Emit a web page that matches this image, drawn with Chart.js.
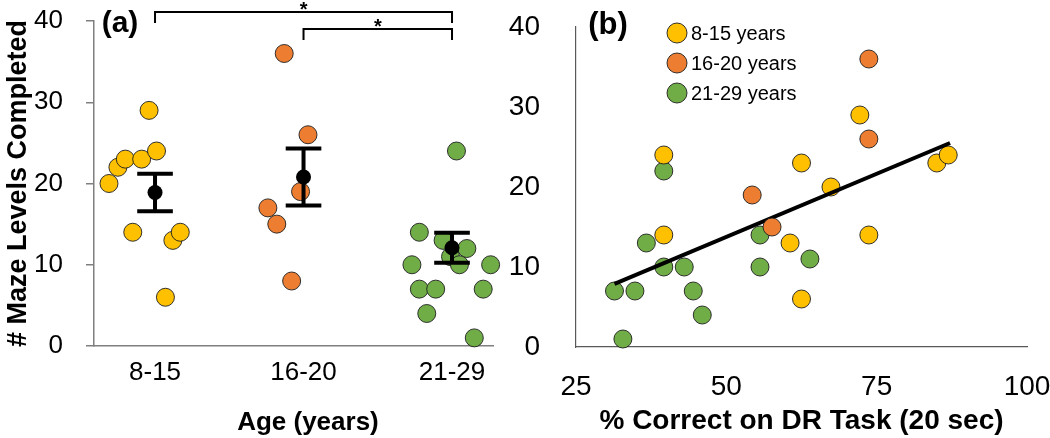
<!DOCTYPE html>
<html>
<head>
<meta charset="utf-8">
<script src="https://cdn.jsdelivr.net/npm/chart.js@4.4.0/dist/chart.umd.min.js"></script>
<style>
  html, body { margin: 0; padding: 0; background: #fff; }
  #wrap { position: relative; width: 1050px; height: 438px; overflow: hidden; }
  .panel { position: absolute; top: 0; height: 438px; }
  #panelA { left: 0; width: 510px; }
  #panelB { left: 500px; width: 550px; }
</style>
</head>
<body>
<div id="wrap">
  <div class="panel" id="panelA"><canvas id="chartA" width="510" height="438"></canvas></div>
  <div class="panel" id="panelB"><canvas id="chartB" width="550" height="438"></canvas></div>
</div>
<script>
// categories
const ageGroups = ['8-15', '16-20', '21-29'];
const legendLabels = ['8-15 years', '16-20 years', '21-29 years'];
const groupColors = ['#FFC000', '#ED7D31', '#70AD47'];
const yTicks = [0, 10, 20, 30, 40];
const drTicks = [25, 50, 75, 100];

// panel (a): maze levels per participant + horizontal jitter around the group
const levels815 = [20, 22, 23, 23, 24, 29, 14, 13, 14, 6];
const jitter815 = [-0.31, -0.25, -0.20, -0.09, 0.01, -0.04, -0.15, 0.12, 0.17, 0.07];
const levels1620 = [36, 26, 19, 17, 15, 8];
const jitter1620 = [-0.13, 0.03, -0.02, -0.24, -0.18, -0.08];
const levels2129 = [24, 14, 13, 12, 11, 10, 10, 10, 7, 7, 7, 4, 1];
const jitter2129 = [0.03, -0.22, -0.06, 0.10, -0.01, 0.05, -0.27, 0.26, -0.22, -0.11, 0.21, -0.17, 0.15];
const groupMeans = [18.9, 20.8, 12.1];
const groupSems = [2.3, 3.5, 1.85];
const sigPairs = [[0, 2], [1, 2]];

// panel (b): % correct on DR task vs levels completed
const dr815 = [39.6, 39.6, 62.5, 67.4, 60.6, 62.5, 72.2, 73.7, 85.0, 86.9];
const lv815 = [24, 14, 23, 20, 13, 6, 29, 14, 23, 24];
const dr1620 = [73.7, 73.7, 54.3, 57.6];
const lv1620 = [36, 26, 19, 15];
const dr2129 = [39.6, 36.7, 39.6, 43.0, 31.4, 34.8, 44.5, 46.0, 32.8, 55.6, 55.6, 63.9];
const lv2129 = [22, 13, 10, 10, 7, 7, 7, 4, 1, 14, 10, 11];
const trendX = [31.4, 87.2];
const trendY = [7.9, 25.5];

const FONT = '"Liberation Sans", Arial, Helvetica, sans-serif';
Chart.defaults.font.family = FONT;
Chart.defaults.color = '#000';

const CAP = 0.12; // half width of error bar caps, in category units

function pointStyle(color) {
  return {
    backgroundColor: color,
    borderColor: 'rgba(30,30,30,0.9)',
    borderWidth: 1,
    pointRadius: 9,
    pointHoverRadius: 9,
    clip: false
  };
}

// keep the layout exactly where the paddings put it
function noPadX(h) {
  return s => { s.height = h; s.paddingLeft = 0; s.paddingRight = 0; };
}
function noPadY(w) {
  return s => { s.width = w; s.paddingTop = 0; s.paddingBottom = 0; };
}

// ---------- panel (a) ----------
const groupsA = [
  [levels815, jitter815],
  [levels1620, jitter1620],
  [levels2129, jitter2129]
];

const errorPts = [];
groupMeans.forEach((m, i) => {
  const hi = m + groupSems[i], lo = m - groupSems[i];
  errorPts.push({x: i - CAP, y: hi}, {x: i + CAP, y: hi}, {x: i, y: null});
  errorPts.push({x: i, y: hi}, {x: i, y: lo}, {x: i, y: null});
  errorPts.push({x: i - CAP, y: lo}, {x: i + CAP, y: lo}, {x: i, y: null});
});

const panelAExtras = {
  id: 'panelAExtras',
  afterDraw(chart) {
    const {ctx, chartArea, scales: {x}} = chart;
    ctx.save();
    ctx.strokeStyle = '#000';
    ctx.lineWidth = 2;
    ctx.fillStyle = '#000';
    sigPairs.forEach((pair, k) => {
      const x1 = x.getPixelForValue(pair[0]);
      const x2 = x.getPixelForValue(pair[1]);
      const yLine = chartArea.top - 9 + 17 * k;
      ctx.beginPath();
      ctx.moveTo(x1, yLine + 11);
      ctx.lineTo(x1, yLine);
      ctx.lineTo(x2, yLine);
      ctx.lineTo(x2, yLine + 11);
      ctx.stroke();
      ctx.font = 'bold 20px ' + FONT;
      ctx.textAlign = 'center';
      ctx.textBaseline = 'alphabetic';
      ctx.fillText('*', (x1 + x2) / 2, yLine + 4);
    });
    ctx.font = 'bold 30px ' + FONT;
    ctx.textAlign = 'center';
    ctx.textBaseline = 'middle';
    ctx.fillText('(a)', chartArea.left + 26, chartArea.top + 3);
    ctx.restore();
  }
};

new Chart(document.getElementById('chartA'), {
  type: 'scatter',
  data: {
    datasets: [
      {
        label: 'mean',
        data: groupMeans.map((m, i) => ({x: i, y: m})),
        backgroundColor: '#000',
        borderWidth: 0,
        pointRadius: 7.5,
        pointHoverRadius: 7.5,
        order: 0,
        clip: false
      },
      {
        type: 'line',
        label: 'sem',
        data: errorPts,
        borderColor: '#000',
        borderWidth: 4,
        pointRadius: 0,
        spanGaps: false,
        order: 1,
        clip: false
      }
    ].concat(groupsA.map((g, gi) => Object.assign({
      label: legendLabels[gi],
      data: g[0].map((v, j) => ({x: gi + g[1][j], y: v})),
      order: 2 + gi
    }, pointStyle(groupColors[gi]))))
  },
  options: {
    responsive: false,
    animation: false,
    layout: {padding: {top: 21, right: 17, bottom: 0, left: 0}},
    plugins: {legend: {display: false}, tooltip: {enabled: false}},
    scales: {
      x: {
        type: 'linear',
        min: -0.411,
        max: 2.276,
        afterFit: noPadX(92),
        afterBuildTicks: s => { s.ticks = ageGroups.map((_, i) => ({value: i})); },
        grid: {display: false},
        border: {display: true, color: '#7f7f7f', width: 1.5},
        ticks: {
          padding: 3,
          maxRotation: 0,
          font: {size: 26},
          callback: v => ageGroups[v]
        },
        title: {
          display: true,
          text: '    Age (years)',
          font: {size: 26, weight: 'bold'},
          padding: {top: 0, bottom: 0}
        }
      },
      y: {
        min: 0,
        max: 40,
        afterFit: noPadY(94),
        afterBuildTicks: s => { s.ticks = yTicks.map(v => ({value: v})); },
        grid: {display: true, drawOnChartArea: false, drawTicks: true, tickLength: 8, color: '#7f7f7f', lineWidth: 1.5},
        border: {display: true, color: '#7f7f7f', width: 1.5},
        ticks: {padding: 23, font: {size: 26}},
        title: {
          display: true,
          text: '# Maze Levels Completed',
          font: {size: 27, weight: 'bold'},
          padding: {top: 2, bottom: 0}
        }
      }
    }
  },
  plugins: [panelAExtras]
});

// ---------- panel (b) ----------
const groupsB = [
  [dr815, lv815],
  [dr1620, lv1620],
  [dr2129, lv2129]
];

const panelBExtras = {
  id: 'panelBExtras',
  afterDraw(chart) {
    const {ctx, chartArea} = chart;
    ctx.save();
    ctx.font = 'bold 31px ' + FONT;
    ctx.fillStyle = '#000';
    ctx.textAlign = 'center';
    ctx.textBaseline = 'middle';
    ctx.fillText('(b)', chartArea.left + 32, chartArea.top - 2);
    // legend
    ctx.font = '20px ' + FONT;
    ctx.textAlign = 'left';
    legendLabels.forEach((lab, i) => {
      const cx = chartArea.left + 101;
      const cy = chartArea.top + 6 + 30 * i;
      ctx.beginPath();
      ctx.arc(cx, cy, 10, 0, Math.PI * 2);
      ctx.fillStyle = groupColors[i];
      ctx.fill();
      ctx.lineWidth = 1;
      ctx.strokeStyle = 'rgba(30,30,30,0.9)';
      ctx.stroke();
      ctx.fillStyle = '#000';
      ctx.fillText(lab, cx + 14, cy + 1);
    });
    ctx.restore();
  }
};

const orderB = [2, 0, 3];
new Chart(document.getElementById('chartB'), {
  type: 'scatter',
  data: {
    datasets: groupsB.map((g, gi) => Object.assign({
      label: legendLabels[gi],
      data: g[0].map((v, j) => ({x: v, y: g[1][j]})),
      order: orderB[gi]
    }, pointStyle(groupColors[gi]))).concat([{
      type: 'line',
      label: 'trend',
      data: trendX.map((v, i) => ({x: v, y: trendY[i]})),
      borderColor: '#000',
      borderWidth: 4,
      pointRadius: 0,
      order: 1
    }])
  },
  options: {
    responsive: false,
    animation: false,
    layout: {padding: {top: 27, right: 23, bottom: 0, left: 0}},
    plugins: {legend: {display: false}, tooltip: {enabled: false}},
    scales: {
      x: {
        type: 'linear',
        min: 25,
        max: 100,
        afterFit: noPadX(91),
        afterBuildTicks: s => { s.ticks = drTicks.map(v => ({value: v})); },
        grid: {display: false},
        border: {display: true, color: '#595959', width: 1.2},
        ticks: {padding: 15, maxRotation: 0, font: {size: 28}},
        title: {
          display: true,
          text: '% Correct on DR Task (20 sec)',
          font: {size: 28, weight: 'bold'},
          padding: {top: 0, bottom: 0}
        }
      },
      y: {
        min: 0,
        max: 40,
        afterFit: noPadY(76),
        afterBuildTicks: s => { s.ticks = yTicks.map(v => ({value: v})); },
        grid: {display: false},
        border: {display: true, color: '#595959', width: 1.2},
        ticks: {padding: 28, font: {size: 28}}
      }
    }
  },
  plugins: [panelBExtras]
});
</script>
</body>
</html>
